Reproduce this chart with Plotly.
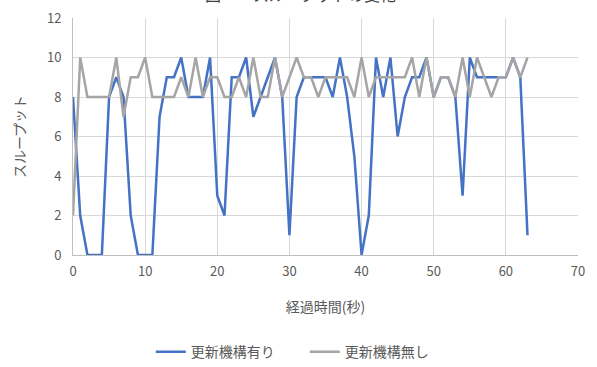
import plotly.graph_objects as go

# elapsed time (s)
seconds = list(range(64))

# throughput with the update mechanism
with_update = [8, 2, 0, 0, 0, 8, 9, 8, 2, 0,
               0, 0, 7, 9, 9, 10, 8, 8, 8, 10,
               3, 2, 9, 9, 10, 7, 8, 9, 10, 8,
               1, 8, 9, 9, 9, 9, 8, 10, 8, 5,
               0, 2, 10, 8, 10, 6, 8, 9, 9, 10,
               8, 9, 9, 8, 3, 10, 9, 9, 9, 9,
               9, 10, 9, 1]

# throughput without the update mechanism
without_update = [2, 10, 8, 8, 8, 8, 10, 7, 9, 9,
                  10, 8, 8, 8, 8, 9, 8, 10, 8, 9,
                  9, 8, 8, 9, 8, 10, 8, 8, 10, 8,
                  9, 10, 9, 9, 8, 9, 9, 9, 9, 8,
                  10, 8, 9, 9, 9, 9, 9, 10, 8, 10,
                  8, 9, 9, 8, 10, 8, 10, 9, 8, 9,
                  9, 10, 9, 10]

FONT = "Noto Sans CJK JP"
TEXT = "#595959"
GRID = "#d9d9d9"

fig = go.Figure()
fig.add_trace(go.Scatter(x=seconds, y=with_update, mode="lines", name="更新機構有り",
                         line=dict(color="#4472C4", width=2.5)))
fig.add_trace(go.Scatter(x=seconds, y=without_update, mode="lines", name="更新機構無し",
                         line=dict(color="#A5A5A5", width=2.5)))

fig.update_layout(
    width=597, height=367,
    margin=dict(l=73, r=19, t=18, b=112, autoexpand=False),
    paper_bgcolor="white", plot_bgcolor="white",
    font=dict(family=FONT, color=TEXT, size=12),
    showlegend=True,
    legend=dict(orientation="h", x=0.459, xanchor="center", y=-0.41, yanchor="middle",
                font=dict(size=14, color=TEXT), itemwidth=30,
                entrywidth=109, entrywidthmode="pixels"),
    annotations=[dict(text="図ー　スループットの変化", xref="paper", yref="paper",
                      x=0.45, y=1.10, xanchor="center", yanchor="middle",
                      showarrow=False, font=dict(size=16, color="#404040"))],
)
fig.update_xaxes(range=[0, 70], dtick=10, showgrid=True, gridcolor=GRID, gridwidth=1,
                 zeroline=False, showline=True, linecolor="#bfbfbf", linewidth=1,
                 ticks="", automargin=False, ticklabelstandoff=4,
                 tickfont=dict(size=13, color=TEXT),
                 title=dict(text="経過時間(秒)", font=dict(size=14, color=TEXT), standoff=23))
fig.update_yaxes(range=[0, 12], dtick=2, showgrid=True, gridcolor=GRID, gridwidth=1,
                 zeroline=False, showline=True, linecolor="#bfbfbf", linewidth=1,
                 ticks="", automargin=False, ticklabelstandoff=8,
                 tickfont=dict(size=13, color=TEXT),
                 title=dict(text="スループット", font=dict(size=14, color=TEXT), standoff=18))

fig.write_html("out.html")
